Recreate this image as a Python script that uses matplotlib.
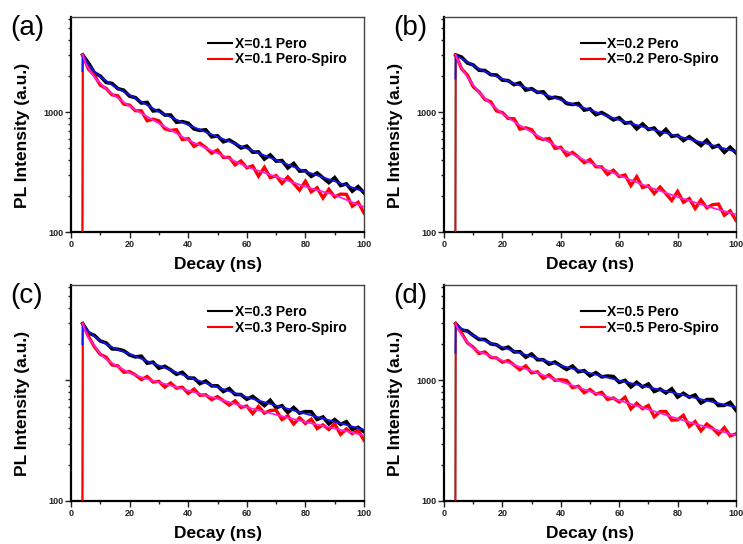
import numpy as np
import matplotlib
matplotlib.use("Agg")
import matplotlib.pyplot as plt
from matplotlib.ticker import LogLocator, MultipleLocator, FixedLocator, FixedFormatter

plt.rcParams['font.family'] = ['Liberation Sans', 'DejaVu Sans']

# ---------------- data ----------------
panel_labels = ["(a)", "(b)", "(c)", "(d)"]
x_values = ["0.1", "0.2", "0.3", "0.5"]
series_names = ["Pero", "Pero-Spiro"]

# raw decay data, sampled every 2 ns from 4 ns to 100 ns
data_time = list(range(4, 101, 2))
rise_time = 3.9
rise_baseline = 60

a_pero = [2990, 2554, 2124, 1994, 1765, 1731, 1566, 1520, 1357, 1318, 1190, 1202, 1022, 1031, 945, 944, 822,
          832, 807, 723, 703, 711, 622, 634, 565, 585, 547, 502, 520, 463, 465, 405, 439, 390, 394, 342, 373,
          322, 324, 291, 311, 283, 258, 284, 244, 252, 219, 239, 212]
a_spiro = [2990, 2272, 2020, 1675, 1572, 1392, 1362, 1166, 1142, 1025, 1024, 846, 873, 844, 726, 702, 713,
           589, 600, 517, 550, 506, 454, 482, 419, 419, 363, 391, 343, 356, 292, 346, 284, 295, 254, 288,
           254, 223, 265, 216, 234, 192, 227, 196, 207, 206, 164, 177, 144]
b_pero = [2990, 2874, 2565, 2469, 2231, 2219, 2051, 2033, 1845, 1828, 1692, 1748, 1523, 1568, 1458, 1475,
          1297, 1330, 1304, 1177, 1156, 1180, 1038, 1061, 950, 991, 930, 860, 897, 807, 820, 724, 796, 716,
          735, 647, 717, 627, 639, 578, 623, 573, 526, 583, 507, 527, 462, 509, 457]
b_spiro = [2990, 2302, 2031, 1626, 1472, 1274, 1217, 1022, 989, 885, 879, 720, 739, 713, 611, 591, 602,
           498, 509, 435, 461, 422, 378, 402, 350, 349, 302, 327, 290, 299, 244, 289, 235, 243, 209, 237,
           209, 183, 218, 177, 190, 157, 185, 159, 169, 171, 138, 150, 125]
c_pero = [2960, 2481, 2365, 2127, 2048, 1833, 1816, 1766, 1630, 1569, 1591, 1392, 1418, 1264, 1311, 1226,
          1127, 1168, 1049, 1045, 941, 990, 902, 902, 810, 858, 766, 764, 698, 738, 677, 619, 685, 594,
          618, 542, 597, 536, 552, 550, 475, 498, 436, 474, 432, 455, 392, 408, 376]
c_spiro = [2960, 2313, 1903, 1647, 1560, 1346, 1321, 1171, 1183, 1112, 1017, 1080, 971, 983, 882, 954,
           864, 879, 781, 848, 753, 761, 693, 735, 679, 625, 678, 598, 614, 531, 608, 536, 564, 567, 474,
           510, 435, 490, 440, 477, 399, 428, 392, 436, 357, 396, 362, 386, 319]
d_pero = [2960, 2619, 2576, 2367, 2193, 2188, 2016, 1978, 1833, 1893, 1726, 1732, 1560, 1659, 1487, 1487,
          1365, 1423, 1323, 1234, 1318, 1181, 1207, 1093, 1163, 1072, 1089, 1079, 965, 1002, 884, 966, 884,
          935, 810, 849, 788, 853, 728, 783, 727, 758, 650, 694, 695, 620, 622, 658, 566]
d_spiro = [2960, 2477, 2055, 1887, 1677, 1726, 1558, 1537, 1418, 1464, 1342, 1228, 1323, 1157, 1180, 1041,
           1114, 1003, 1015, 1001, 871, 896, 791, 841, 769, 798, 697, 715, 663, 726, 581, 647, 583, 621,
           500, 552, 553, 469, 472, 514, 416, 456, 382, 435, 401, 358, 407, 347, 361]

# fitted curves
fit_time = [4, 5, 6, 8, 10, 12, 15, 20, 25, 30, 40, 50, 60, 70, 80, 90, 100]
fit_rise = [2200, 1900, 2000, 1700]
a_pero_fit = [2990, 2700, 2480, 2170, 1970, 1820, 1620, 1390, 1180, 1006, 780, 622, 498, 398, 320, 265, 217]
a_spiro_fit = [2990, 2550, 2300, 1950, 1730, 1560, 1360, 1120, 945, 805, 584, 453, 350, 289, 239, 203, 162]
b_pero_fit = [2990, 2880, 2790, 2620, 2440, 2300, 2120, 1890, 1700, 1530, 1260, 1040, 858, 731, 630, 545, 467]
b_spiro_fit = [2990, 2600, 2330, 1960, 1680, 1460, 1230, 970, 800, 680, 495, 378, 296, 238, 196, 164, 140]
c_pero_fit = [2960, 2700, 2550, 2330, 2140, 2000, 1840, 1660, 1480, 1330, 1070, 880, 727, 620, 530, 455, 390]
c_spiro_fit = [2960, 2500, 2250, 1950, 1660, 1500, 1345, 1155, 1045, 966, 826, 705, 600, 520, 452, 400, 350]
d_pero_fit = [2960, 2800, 2700, 2530, 2360, 2240, 2080, 1890, 1720, 1580, 1330, 1150, 1000, 880, 777, 680, 600]
d_spiro_fit = [2960, 2600, 2400, 2080, 1850, 1740, 1625, 1465, 1322, 1200, 980, 812, 683, 575, 482, 410, 350]

raw_sets = [(a_pero, a_spiro), (b_pero, b_spiro), (c_pero, c_spiro), (d_pero, d_spiro)]
fit_sets = [(a_pero_fit, a_spiro_fit), (b_pero_fit, b_spiro_fit),
            (c_pero_fit, c_spiro_fit), (d_pero_fit, d_spiro_fit)]
ytick_labels = [["100", "1000"], ["100", "1000"], ["100", ""], ["100", "1000"]]

# ---------------- figure ----------------
W, H = 743, 544
fig = plt.figure(figsize=(W / 100, H / 100), dpi=100)

boxes = [(71, 17, 364, 232), (444, 17, 736, 232), (71, 285, 364, 501), (444, 285, 736, 501)]
label_pos = [(10, 28), (393, 28), (10, 296), (393, 296)]

for i in range(4):
    x0, y0, x1, y1 = boxes[i]
    ax = fig.add_axes([x0 / W, 1 - y1 / H, (x1 - x0) / W, (y1 - y0) / H])
    pero, spiro = raw_sets[i]
    pfit, sfit = fit_sets[i]

    # thin rising edges
    ax.plot([rise_time, data_time[0]], [rise_baseline, pero[0]], color='black', lw=1.2, zorder=2)
    ax.plot([rise_time, data_time[0]], [rise_baseline, spiro[0]], color='#ff0000', lw=1.2, zorder=3)
    # noisy decays
    ax.plot(data_time, pero, color='black', lw=2.6, zorder=2, solid_joinstyle='miter',
            label=f"X={x_values[i]} {series_names[0]}")
    ax.plot(data_time, spiro, color='#ff0000', lw=2.4, zorder=3, solid_joinstyle='miter',
            label=f"X={x_values[i]} {series_names[1]}")
    # fits
    ax.plot([rise_time] + fit_time, [fit_rise[i]] + pfit, color='#1414ee', lw=1.3, zorder=4)
    ax.plot(fit_time, sfit, color='#ff22dd', lw=1.3, zorder=5)

    ax.set_yscale('log')
    ax.set_xlim(0, 100)
    ax.set_ylim(100, 6200)

    ax.xaxis.set_major_locator(MultipleLocator(20))
    ax.xaxis.set_minor_locator(MultipleLocator(10))
    ax.yaxis.set_major_locator(FixedLocator([100, 1000]))
    ax.yaxis.set_major_formatter(FixedFormatter(ytick_labels[i]))
    ax.yaxis.set_minor_locator(LogLocator(base=10, subs=np.arange(2, 10)))
    ax.yaxis.set_minor_formatter(plt.NullFormatter())

    ax.tick_params(which='both', direction='out', top=False, right=False,
                   labelsize=6.5, colors='#222222', width=1.0)
    ax.tick_params(which='major', length=4, pad=1.5)
    ax.tick_params(which='minor', length=2.5)
    for lab in ax.get_xticklabels() + ax.get_yticklabels():
        lab.set_fontweight('bold')

    ax.spines['left'].set_linewidth(1.6)
    ax.spines['bottom'].set_linewidth(1.6)
    for s in ('top', 'right'):
        ax.spines[s].set_linewidth(1.0)
        ax.spines[s].set_color('#444444')

    ax.set_xlabel("Decay (ns)", fontsize=12.5, fontweight='bold', labelpad=6)
    ax.set_ylabel("PL Intensity (a.u.)", fontsize=12.5, fontweight='bold')
    ax.yaxis.set_label_coords(-0.14, 0.45)

    leg = ax.legend(loc='upper left', bbox_to_anchor=(0.468, 0.908), frameon=False,
                    prop={'size': 10, 'weight': 'bold'}, handlelength=1.75,
                    handletextpad=0.15, labelspacing=0.12, borderpad=0, borderaxespad=0)
    for h in leg.get_lines():
        h.set_linewidth(1.5)

    fig.text(label_pos[i][0] / W, 1 - label_pos[i][1] / H, panel_labels[i],
             fontsize=20, ha='left', va='center')

fig.savefig("out.png", dpi=100)
